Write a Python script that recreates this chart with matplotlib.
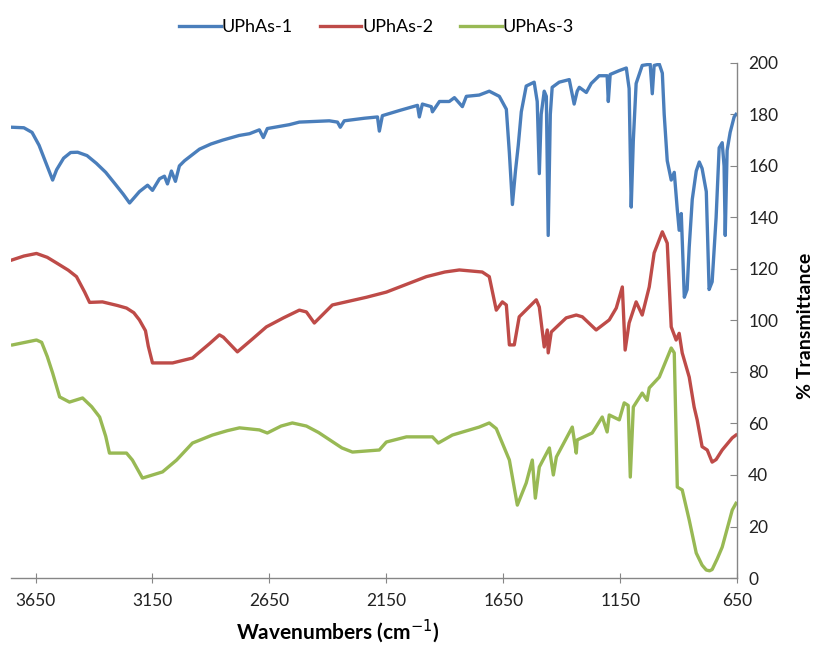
import matplotlib
matplotlib.use("Agg")
import matplotlib.pyplot as plt

plt.rcParams['font.family'] = ['Lato', 'DejaVu Sans']

series_names = ["UPhAs-1", "UPhAs-2", "UPhAs-3"]

wn1 = [3750, 3700, 3665, 3635, 3605, 3577, 3560, 3530, 3500, 3470, 3430, 3390, 3350, 3310, 3275,
       3248, 3225, 3206, 3171, 3150, 3120, 3099, 3086,
       3069, 3052, 3035, 3013, 2949, 2900, 2850, 2780, 2735, 2693, 2676, 2659, 2565, 2522, 2394,
       2359, 2347,
       2330, 2244, 2188, 2180, 2167, 2094, 2017, 2009, 1996, 1958, 1953, 1923, 1881, 1859, 1825,
       1808, 1753, 1710, 1667, 1637, 1624, 1611, 1598, 1586, 1573, 1552, 1518, 1505, 1496, 1488,
       1475, 1466, 1458, 1449, 1441, 1411, 1368, 1347, 1334, 1325, 1295, 1274, 1240, 1206, 1201,
       1193, 1154, 1124, 1112, 1103, 1094, 1082, 1056, 1022, 1013, 1005, 983, 970, 962, 949,
       932, 919, 906, 898, 889, 876, 864, 855, 842, 825, 812, 800, 782, 770, 757,
       740, 727, 714, 706, 701, 693, 680, 663, 655]
t1 = [175, 174.8, 173, 168, 161, 154.5, 158.5, 163, 165.2, 165.3, 164, 161, 157.5, 153, 149,
      145.6, 148, 150, 152.5, 150.5, 155, 156, 153,
      158, 154, 160, 162, 166.5, 168.5, 170, 171.8, 172.5, 174, 171, 174.5, 176, 177, 177.5,
      177, 175,
      177.5, 178.5, 179, 173.5, 179.5, 181.5, 183.5, 179, 184, 183, 181, 185, 185, 186.5, 183,
      187, 187.5, 189, 187, 182, 165, 145, 158, 168, 181, 191, 192.5, 185, 157, 180,
      189, 187, 133, 180, 190.5, 192.5, 193.5, 184, 189, 190.5, 188.5, 192, 195, 195, 185,
      195.5, 197, 198, 190, 144, 170, 192, 199, 199.5, 188, 199, 199.5, 196, 180, 162,
      154.5, 157.5, 143, 135, 141.5, 109, 112, 128.5, 147, 158, 161.5, 159, 150, 112, 115,
      140, 167, 169, 160, 133, 166, 173, 179, 180]

wn2 = [3750, 3700, 3646, 3600, 3560, 3510, 3475, 3440, 3419, 3364, 3300, 3261, 3230, 3206, 3180,
       3168, 3150, 3064, 2979, 2906, 2864,
       2847, 2787, 2720, 2663, 2590, 2522, 2492, 2458, 2381, 2235, 2150, 1979, 1900, 1838, 1740,
       1710, 1680, 1654,
       1637, 1624, 1603, 1582, 1509, 1496, 1475, 1462, 1458, 1445, 1381, 1338, 1312, 1253, 1197,
       1167, 1141, 1129, 1112, 1082, 1056, 1026, 1005, 970, 949, 932, 911, 898, 885, 855,
       834, 821, 800, 778, 757, 740, 714, 671, 655]
t2 = [123.5, 125, 126, 124.5, 122.3, 119.5, 117, 111, 107, 107.2, 105.8, 104.8, 103, 100.2, 96,
      90, 83.5, 83.5, 85.4, 91, 94.4,
      93.5, 87.8, 93, 97.5, 101, 104, 103.3, 99, 106, 109, 111, 117, 118.8, 119.6, 118.8,
      117, 104, 107.2,
      106, 90.5, 90.5, 101.4, 108, 105.2, 89.7, 96.3, 87.4, 95.5, 101, 102.1, 101.4, 96.3, 100.2,
      104.8, 113, 88.5, 99, 107.2, 102.1, 113, 126.2, 134.4, 130, 97.5, 92.4, 95, 87.4, 78,
      66.4, 61.4, 51, 49.7, 45, 46, 49.7, 54.4, 55.5]

wn3 = [3748, 3646, 3624, 3600, 3577, 3547, 3505, 3449, 3410, 3376, 3350, 3334, 3261, 3236, 3193,
       3150, 3107, 3047, 2979,
       2894, 2830, 2778, 2693, 2659, 2600, 2552, 2492, 2440, 2390, 2340, 2295, 2180, 2150, 2064,
       1953, 1928, 1868, 1753, 1710,
       1680, 1624, 1590, 1552, 1526, 1513, 1496, 1453, 1436, 1423, 1355, 1338, 1334, 1270, 1227,
       1206, 1197, 1154, 1133, 1116, 1107, 1094, 1056, 1035, 1026, 983, 932, 919, 906, 885,
       855, 825, 800, 782, 768, 757, 735, 714, 671, 655]
t3 = [90.5, 92.4, 91.5, 86, 79.6, 70.3, 68.3, 69.9, 66.5, 62.5, 55, 48.5, 48.5, 45.8, 38.8,
      40, 41.2, 45.8, 52.4,
      55.5, 57.2, 58.3, 57.5, 56.3, 59, 60.2, 59, 56.5, 53.5, 50.5, 48.9, 49.7, 52.8, 54.8,
      54.8, 52.4, 55.5, 58.6, 60.2,
      58, 45.8, 28.3, 36.9, 45.8, 31, 43.1, 50.5, 40, 47, 58.6, 48.5, 53.6, 56.3, 62.5,
      56.7, 63.3, 61.4, 68, 67, 39.2, 66.4, 71.8, 69, 73.8, 78, 89.3, 87.4, 35.3, 34.2,
      22.5, 9.7, 5, 3.1, 2.8, 3.3, 7.5, 12, 26.4, 29]

x_ticks = [3650, 3150, 2650, 2150, 1650, 1150, 650]
y_ticks = [0, 20, 40, 60, 80, 100, 120, 140, 160, 180, 200]
colors = ["#4A7EBB", "#BE4B48", "#98B954"]

fig = plt.figure(figsize=(8.15, 6.48), dpi=100)
ax = fig.add_axes([0.0135, 0.108, 0.891, 0.795])

for wn, t, c, name in zip([wn1, wn2, wn3], [t1, t2, t3], colors, series_names):
    ax.plot(wn, t, color=c, lw=2.4, label=name, solid_joinstyle='round')

ax.set_xlim(3755, 650)
ax.set_ylim(0, 200)
ax.set_xticks(x_ticks)
ax.set_xticklabels([str(v) for v in x_ticks])
ax.set_yticks(y_ticks)
ax.yaxis.tick_right()
ax.yaxis.set_label_position("right")
for s in ["top", "left"]:
    ax.spines[s].set_visible(False)
for s in ["bottom", "right"]:
    ax.spines[s].set_color("#868686")
    ax.spines[s].set_linewidth(1.0)
ax.tick_params(axis='x', direction='inout', length=7, color="#868686", labelsize=12.5, pad=7, labelcolor="#222222")
ax.tick_params(axis='y', direction='in', length=5, color="#868686", labelsize=12.5, pad=8, labelcolor="#222222")

ax.set_xlabel("Wavenumbers (cm$^{-1}$)", fontsize=15, fontweight='bold')
ax.xaxis.set_label_coords(0.45, -0.075)
ax.set_ylabel("% Transmittance", fontsize=14, fontweight='bold')
ax.yaxis.set_label_coords(1.083, 0.49)

leg = fig.legend(loc='upper center', bbox_to_anchor=(0.462, 0.995), ncol=3, frameon=False,
                 fontsize=13, handlelength=2.3, columnspacing=1.5, handletextpad=0.05)

fig.savefig("out.png", dpi=100)
